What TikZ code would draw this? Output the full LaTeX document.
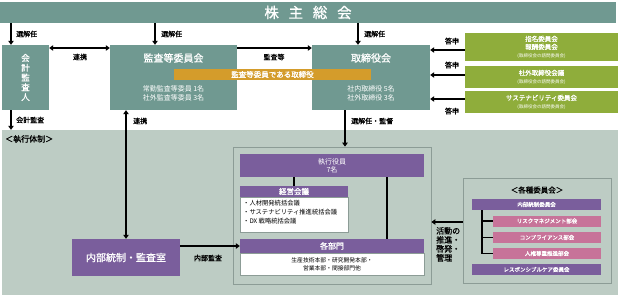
\documentclass[tikz,border=0pt]{standalone}
\usepackage{fontspec}
\setmainfont{Noto Sans CJK JP}[BoldFont={Noto Sans CJK JP}, BoldFeatures={FakeBold=1.1}]
\usetikzlibrary{positioning,arrows.meta}
\definecolor{boardcolor}{rgb}{0.44,0.60,0.57}
\definecolor{execcolor}{rgb}{0.74,0.80,0.77}
\definecolor{framecolor}{rgb}{0.55,0.61,0.59}
\definecolor{purplecolor}{rgb}{0.48,0.37,0.61}
\definecolor{pinkcolor}{rgb}{0.78,0.45,0.60}
\definecolor{greencolor}{rgb}{0.56,0.68,0.23}
\definecolor{orangecolor}{rgb}{0.83,0.61,0.17}

\begin{document}
\begin{tikzpicture}[x=1pt, y=-1pt,
    box/.style={inner sep=0pt, align=center, text=white},
    lbl/.style={inner sep=0pt, anchor=west, font=\fontsize{7}{8}\selectfont\bfseries},
    arr/.style={line width=1.8pt, -{Triangle[length=4pt,width=5.5pt]}},
    dbl/.style={line width=1.8pt, {Triangle[length=4pt,width=5.5pt]}-{Triangle[length=4pt,width=5.5pt]}},
    ln/.style={line width=1.2pt}]
\useasboundingbox[fill=white] (0,0) rectangle (623,299);
\node[box, fill=boardcolor, minimum width=616pt, minimum height=21pt, font=\fontsize{14.5}{15}\selectfont\bfseries] (soukai) at (308,12.5) {株\ \ \ 主\ \ \ 総\ \ \ 会};
\node[box, fill=boardcolor, minimum width=47pt, minimum height=65pt, font=\fontsize{8.5}{9.8}\selectfont\bfseries] (kaikei) at (25.5,77.5) {会\\計\\監\\査\\人};
\node[box, fill=boardcolor, minimum width=127pt, minimum height=65pt] (kansa) at (173.5,77.5) {};
\node[box, font=\fontsize{10}{11}\selectfont\bfseries] (kansa title) at (173.5,58) {監査等委員会};
\node[box, font=\fontsize{7}{9}\selectfont] (kansa member) at (173.5,93.5) {常勤監査等委員 1名\\社外監査等委員 3名};
\node[box, fill=boardcolor, minimum width=118pt, minimum height=65pt] (torishimari) at (371,77.5) {};
\node[box, font=\fontsize{10}{11}\selectfont\bfseries] (torishimari title) at (371,58) {取締役会};
\node[box, font=\fontsize{7}{9}\selectfont] (torishimari member) at (371,93.5) {社内取締役 5名\\社外取締役 3名};
\node[box, fill=orangecolor, minimum width=197pt, minimum height=11pt, font=\fontsize{7.5}{8}\selectfont\bfseries] (kansa torishimari) at (272.5,74.5) {監査等委員である取締役};
\node[box, fill=greencolor, minimum width=153pt, minimum height=28pt, font=\fontsize{6.5}{8}\selectfont\bfseries] (shimei) at (541.5,47) {指名委員会\\報酬委員会\\{\mdseries\fontsize{4.5}{6}\selectfont(取締役会の諮問委員会)}};
\node[box, fill=greencolor, minimum width=153pt, minimum height=22pt, font=\fontsize{6.5}{8}\selectfont\bfseries] (shagai) at (541.5,77) {社外取締役会議\\{\mdseries\fontsize{4.5}{6}\selectfont(取締役会の諮問委員会)}};
\node[box, fill=greencolor, minimum width=153pt, minimum height=22pt, font=\fontsize{6.5}{8}\selectfont\bfseries] (sustain) at (541.5,102) {サステナビリティ委員会\\{\mdseries\fontsize{4.5}{6}\selectfont(取締役会の諮問委員会)}};
\coordinate (senkai1) at (11,23);
\coordinate (senkai2) at (155,23);
\coordinate (senkai3) at (358,23);
\draw[arr] (senkai1) -- (senkai1 |- kaikei.north);
\draw[arr] (senkai2) -- (senkai2 |- kansa.north);
\draw[arr] (senkai3) -- (senkai3 |- torishimari.north);
\node[lbl] (senkai1 label) at (16,34) {選解任};
\node[lbl] (senkai2 label) at (161,34) {選解任};
\node[lbl] (senkai3 label) at (364,34) {選解任};
\draw[dbl] (kaikei.east |- 0,48) -- (kansa.west |- 0,48);
\node[lbl, anchor=center] (renkei1 label) at (80,57) {連携};
\draw[arr] (kansa.east |- 0,48) -- (torishimari.west |- 0,48);
\node[lbl, anchor=center] (kansatou label) at (274,57) {監査等};
\draw[arr] (shimei.west |- 0,50) -- (torishimari.east |- 0,50);
\draw[arr] (shagai.west |- 0,75) -- (torishimari.east |- 0,75);
\draw[arr] (sustain.west |- 0,99) -- (torishimari.east |- 0,99);
\node[lbl, anchor=center] (toushin1 label) at (452,41) {答申};
\node[lbl, anchor=center] (toushin2 label) at (452,65) {答申};
\node[lbl, anchor=center] (toushin3 label) at (452,111) {答申};
\node[box, fill=execcolor, minimum width=616pt, minimum height=165pt] (shikkou) at (310,212.5) {};
\node[lbl, font=\fontsize{8}{9}\selectfont\bfseries] (shikkou label) at (5,139) {＜執行体制＞};
\draw[arr] (kaikei.south -| senkai1) -- (senkai1 |- shikkou.north);
\node[lbl] (kaikei label) at (16,120) {会計監査};
\node[box, draw=framecolor, line width=0.8pt, minimum width=198pt, minimum height=137pt] (shikkou frame) at (332,215.5) {};
\node[box, fill=purplecolor, minimum width=184pt, minimum height=23pt, font=\fontsize{7}{8}\selectfont] (yakuin) at (332,165.5) {執行役員\\7名};
\node[box, fill=purplecolor, minimum width=108pt, minimum height=11pt, font=\fontsize{7.5}{8}\selectfont\bfseries] (keiei) at (294,191.5) {経営会議};
\node[box, fill=white, draw=framecolor, line width=0.4pt, minimum width=108pt, minimum height=35pt, below=0pt of keiei] (keiei body) {};
\node[lbl, anchor=north west, text=black, align=left, font=\fontsize{6.3}{9}\selectfont\mdseries] (keiei list) at (243,200) {・人材開発統括会議\\・サステナビリティ推進統括会議\\・DX 戦略統括会議};
\node[box, fill=purplecolor, minimum width=184pt, minimum height=14pt, font=\fontsize{8}{9}\selectfont\bfseries] (bumon) at (332,246) {各部門};
\node[box, fill=white, draw=framecolor, line width=0.4pt, minimum width=184pt, minimum height=22pt, below=0pt of bumon, text=black, font=\fontsize{5.8}{7.5}\selectfont] (bumon body) {生産技術本部・研究開発本部・\\営業本部・間接部門他};
\draw[ln] (yakuin.south -| keiei.north) -- (keiei.north);
\draw[ln] (yakuin.south -| 387,0) -- (bumon.north -| 387,0);
\draw[arr] (torishimari.south -| 345,0) -- (shikkou frame.north -| 345,0);
\node[lbl] (kantoku label) at (351,121) {選解任・監督};
\node[box, fill=purplecolor, minimum width=108pt, minimum height=37pt, font=\fontsize{10}{11}\selectfont\bfseries] (naibu) at (126,257.5) {内部統制・監査室};
\draw[dbl] (kansa.south -| naibu.north) -- (naibu.north);
\node[lbl] (renkei2 label) at (133,121) {連携};
\draw[arr] (naibu.east |- bumon.west) -- (bumon.west);
\node[lbl, anchor=center] (naibu label) at (208,258) {内部監査};
\node[box, draw=framecolor, line width=0.8pt, minimum width=148pt, minimum height=105pt] (kakushu) at (537,230.5) {};
\node[lbl, anchor=center, font=\fontsize{7.5}{8}\selectfont\bfseries] (kakushu label) at (537,190) {＜各種委員会＞};
\node[box, fill=purplecolor, minimum width=129pt, minimum height=11pt, font=\fontsize{5.5}{6}\selectfont\bfseries] (naibu iinkai) at (536.5,204.5) {内部統制委員会};
\node[box, fill=pinkcolor, minimum width=108pt, minimum height=11pt, font=\fontsize{5.5}{6}\selectfont\bfseries] (risk) at (547,221) {リスクマネジメント部会};
\node[box, fill=pinkcolor, minimum width=108pt, minimum height=11pt, font=\fontsize{5.5}{6}\selectfont\bfseries] (compliance) at (547,237.5) {コンプライアンス部会};
\node[box, fill=pinkcolor, minimum width=108pt, minimum height=11pt, font=\fontsize{5.5}{6}\selectfont\bfseries] (jinken) at (547,253.5) {人権尊重推進部会};
\node[box, fill=purplecolor, minimum width=129pt, minimum height=11pt, font=\fontsize{5.5}{6}\selectfont\bfseries] (rc) at (536.5,269.5) {レスポンシブルケア委員会};
\draw[ln] (naibu iinkai.south -| 482,0) -- (jinken.west -| 482,0) -- (jinken.west);
\draw[ln] (risk.west -| 482,0) -- (risk.west);
\draw[ln] (compliance.west -| 482,0) -- (compliance.west);
\draw[arr] (kakushu.west |- 0,222) -- (shikkou frame.east |- 0,222);
\node[lbl, anchor=north west, align=left, font=\fontsize{8}{9}\selectfont\bfseries] (katsudou label) at (436,227) {活動の\\推進・\\啓発・\\管理};
\end{tikzpicture}
\end{document}
